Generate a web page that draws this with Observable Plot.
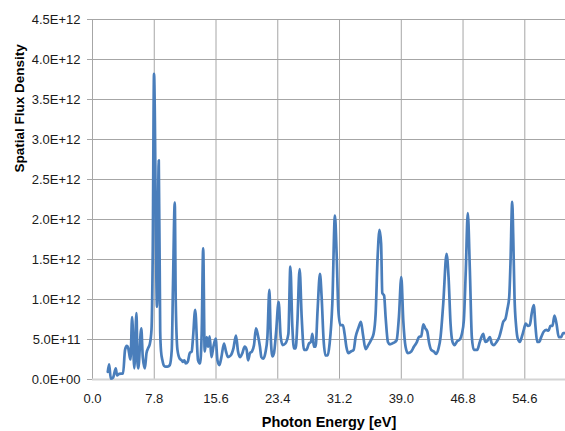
<!DOCTYPE html>
<html>
<head>
<meta charset="utf-8">
<script src="https://cdn.jsdelivr.net/npm/d3@7"></script>
<script src="https://cdn.jsdelivr.net/npm/@observablehq/plot@0.6"></script>
<style>
  html, body { margin: 0; padding: 0; background: #fff; }
  #chart svg { display: block; }
</style>
</head>
<body>
<div id="chart"></div>
<script>
// Photon energy [eV]
const energy = [
  1.93, 2.10, 2.31, 2.60, 2.94, 3.10, 3.36, 3.86, 4.11, 4.33, 4.49, 4.71, 4.80, 5.00, 5.28, 5.55,
  5.69, 5.78, 6.16, 6.35, 6.61, 6.82, 7.02, 7.23, 7.45, 7.61, 7.77, 8.15, 8.37, 8.55, 8.66, 8.83,
  9.04, 9.25, 9.47, 9.76, 10.01, 10.17, 10.39, 10.51, 10.73, 11.02, 11.27, 11.43, 11.61, 11.78,
  12.03, 12.28, 12.53, 12.70, 12.97, 13.33, 13.58, 13.79, 13.98, 14.17, 14.43, 14.59, 14.80,
  15.02, 15.27, 15.56, 15.78, 16.03, 16.28, 16.61, 16.86, 17.11, 17.45, 17.80, 18.12, 18.38,
  18.63, 18.93, 19.22, 19.47, 19.64, 19.89, 20.14, 20.40, 20.65, 20.90, 21.15, 21.33, 21.58,
  21.83, 22.09, 22.34, 22.50, 22.72, 22.92, 23.17, 23.51, 23.77, 24.02, 24.36, 24.74, 24.99,
  25.24, 25.44, 25.66, 25.87, 26.16, 26.42, 26.71, 27.01, 27.34, 27.59, 27.77, 27.97, 28.18,
  28.43, 28.73, 28.94, 29.19, 29.44, 29.70, 29.95, 30.29, 30.62, 30.83, 31.05, 31.30, 31.63,
  31.84, 32.06, 32.31, 32.64, 32.98, 33.23, 33.57, 33.90, 34.15, 34.49, 34.83, 35.16, 35.50,
  35.76, 36.01, 36.25, 36.45, 36.60, 36.83, 37.02, 37.31, 37.56, 38.06, 38.41, 38.70, 39.00,
  39.25, 39.54, 39.83, 40.26, 40.59, 40.93, 41.22, 41.52, 41.78, 42.03, 42.28, 42.53, 42.78,
  43.11, 43.42, 43.71, 43.96, 44.30, 44.72, 44.97, 45.22, 45.47, 45.73, 46.07, 46.39, 46.65,
  46.90, 47.15, 47.40, 47.66, 47.91, 48.16, 48.59, 48.92, 49.35, 49.60, 49.85, 50.18, 50.43,
  50.69, 51.03, 51.37, 51.62, 51.87, 52.16, 52.38, 52.63, 52.79, 53.01, 53.14, 53.30, 53.51,
  53.71, 53.97, 54.27, 54.47, 54.72, 54.98, 55.23, 55.48, 55.73, 55.95, 56.16, 56.42, 56.67,
  57.00, 57.34, 57.59, 57.84, 58.09, 58.35, 58.60, 58.89, 59.19, 59.44, 59.70
];
// Spatial flux density, in units of 1E+12
const fluxE12 = [
  0.095, 0.19, 0.01, 0.025, 0.14, 0.05, 0.07, 0.075, 0.37, 0.42, 0.40, 0.28, 0.25, 0.78, 0.14, 0.83,
  0.20, 0.14, 0.64, 0.28, 0.14, 0.33, 0.39, 0.44, 0.62, 1.60, 3.82, 0.91, 2.74, 0.60, 0.35, 0.24,
  0.17, 0.16, 0.16, 0.18, 0.37, 1.20, 2.21, 1.00, 0.37, 0.26, 0.24, 0.22, 0.24, 0.20,
  0.22, 0.33, 0.35, 0.53, 0.87, 0.24, 0.20, 0.58, 1.64, 0.35, 0.53, 0.41, 0.54,
  0.28, 0.41, 0.51, 0.24, 0.18, 0.28, 0.45, 0.35, 0.28, 0.30, 0.39, 0.55, 0.35,
  0.28, 0.33, 0.41, 0.37, 0.24, 0.33, 0.35, 0.43, 0.64, 0.55, 0.41, 0.28, 0.26,
  0.33, 0.53, 1.12, 0.57, 0.29, 0.33, 0.57, 0.97, 0.53, 0.43, 0.45, 0.57, 1.41,
  0.66, 0.39, 0.39, 0.70, 1.38, 0.78, 0.37, 0.37, 0.45, 0.47, 0.57, 0.41, 0.41,
  0.87, 1.32, 1.03, 0.49, 0.30, 0.30, 0.45, 0.95, 2.05, 1.58, 0.87, 0.68, 0.68,
  0.57, 0.41, 0.33, 0.35, 0.37, 0.53, 0.64, 0.72, 0.57, 0.38, 0.43, 0.49, 0.57,
  0.82, 1.53, 1.87, 1.70, 1.08, 1.05, 0.78, 0.47, 0.44, 0.46, 0.49, 0.78, 1.28,
  0.74, 0.41, 0.33, 0.35, 0.41, 0.46, 0.53, 0.54, 0.69, 0.64, 0.60, 0.45, 0.37,
  0.35, 0.32, 0.39, 0.53, 0.95, 1.57, 1.28, 0.70, 0.47, 0.43, 0.48, 0.50, 0.57,
  0.74, 1.37, 2.08, 1.37, 0.53, 0.37, 0.37, 0.47, 0.57, 0.47, 0.48, 0.53, 0.45,
  0.43, 0.47, 0.53, 0.62, 0.72, 0.76, 0.87, 1.03, 1.45, 2.22, 1.78, 1.03, 0.66,
  0.51, 0.47, 0.55, 0.62, 0.70, 0.67, 0.68, 0.83, 0.93, 0.66, 0.47, 0.47, 0.53,
  0.60, 0.62, 0.61, 0.67, 0.67, 0.80, 0.70, 0.53, 0.53, 0.58, 0.58
];
const xTicks = [0, 7.8, 15.6, 23.4, 31.2, 39.0, 46.8, 54.6];
const yTicks = [0, 0.5e12, 1.0e12, 1.5e12, 2.0e12, 2.5e12, 3.0e12, 3.5e12, 4.0e12, 4.5e12];
const xTitle = "Photon Energy [eV]";
const yTitle = "Spatial Flux Density";

const data = energy.map((e, i) => ({energy: e, flux: fluxE12[i] * 1e12}));

const sci = d => d.toExponential(1).toUpperCase().replace(/E([+-])(\d)$/, "E$10$2");

const chart = Plot.plot({
  width: 565,
  height: 431,
  marginLeft: 92,
  marginRight: 0,
  marginTop: 19,
  marginBottom: 52,
  style: {fontFamily: "'Liberation Sans', Arial, sans-serif", fontSize: "13px", color: "#1a1a1a", background: "#fff"},
  x: {domain: [0, 59.74]},
  y: {domain: [0, 4.5e12]},
  marks: [
    Plot.gridY(yTicks, {stroke: "#a6a6a6", strokeOpacity: 1}),
    Plot.gridX(xTicks, {stroke: "#a6a6a6", strokeOpacity: 1}),
    Plot.ruleY([0], {stroke: "#d4d4d4", strokeWidth: 2}),
    Plot.axisY({ticks: yTicks, tickFormat: sci, tickSize: 5, tickPadding: 7, stroke: "#a6a6a6", fill: "#1a1a1a", fontSize: 13, label: null}),
    Plot.axisX({ticks: xTicks, tickFormat: d => d.toFixed(1), tickSize: 0, tickPadding: 14, fill: "#1a1a1a", fontSize: 13, label: null}),
    Plot.line(data, {x: "energy", y: "flux", stroke: "#4a7ebb", strokeWidth: 2.7, curve: "monotone-x", strokeLinejoin: "round"}),
    Plot.text([xTitle], {frameAnchor: "bottom", dy: 43, text: d => d, fontWeight: "bold", fontSize: 14.5, fill: "#000", lineAnchor: "middle"}),
    Plot.text([yTitle], {frameAnchor: "left", dx: -73, dy: -27, rotate: -90, text: d => d, fontWeight: "bold", fontSize: 13.5, fill: "#000", lineAnchor: "middle"})
  ]
});
document.getElementById("chart").appendChild(chart);
</script>
</body>
</html>
